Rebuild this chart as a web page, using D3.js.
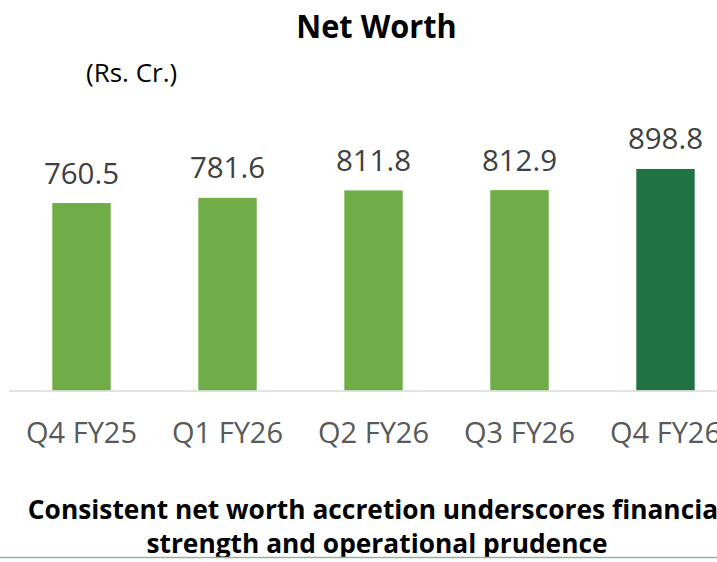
<!DOCTYPE html>
<html>
<head>
<meta charset="utf-8">
<script src="https://cdn.jsdelivr.net/npm/d3@7"></script>
<style>
  html, body { margin: 0; padding: 0; background: #fff; overflow: hidden; }
  svg { display: block; font-family: "Open Sans", "Noto Sans", sans-serif; }
</style>
</head>
<body>
<div id="chart"></div>
<script>
var width = 717
var height = 562

var quarters = ['Q4 FY25', 'Q1 FY26', 'Q2 FY26', 'Q3 FY26', 'Q4 FY26']
var netWorth = [760.5, 781.6, 811.8, 812.9, 898.8]
var barColors = ['#70ad47', '#70ad47', '#70ad47', '#70ad47', '#217346']
var captionLines = ['Consistent net worth accretion underscores financial', 'strength and operational prudence']

var data = quarters.map((q, i) => ({ q: q, v: netWorth[i], c: barColors[i] }))

var svg = d3.select('#chart').append('svg')
  .attr('width', width)
  .attr('height', height)

var x = d3.scaleBand().domain(quarters)
  .range([8.5, 738.5])
  .paddingInner(0.6)
  .paddingOuter(0.3)

var y = d3.scaleLinear().domain([0, 1000]).range([390.5, 144])

// title + unit
svg.append('text')
  .attr('x', 376.5).attr('y', 37.5)
  .attr('text-anchor', 'middle')
  .attr('font-size', 33).attr('font-weight', 700)
  .attr('fill', '#000')
  .attr('data-squeeze', 0.93)
  .text('Net Worth')

svg.append('text')
  .attr('x', 86).attr('y', 81.5)
  .attr('font-size', 26)
  .attr('fill', '#000')
  .text('(Rs. Cr.)')

// bars
svg.selectAll('rect.bar')
  .data(data)
  .enter()
  .append('rect')
  .attr('class', 'bar')
  .attr('x', d => x(d.q))
  .attr('y', d => y(d.v))
  .attr('width', x.bandwidth())
  .attr('height', d => y(0) - y(d.v))
  .attr('fill', d => d.c)

// value labels
svg.selectAll('text.val')
  .data(data)
  .enter()
  .append('text')
  .attr('class', 'val')
  .attr('x', d => x(d.q) + x.bandwidth() / 2)
  .attr('y', d => y(d.v) - 19.5)
  .attr('text-anchor', 'middle')
  .attr('font-size', 29.5)
  .attr('fill', '#404040')
  .text(d => d.v.toFixed(1))

// x axis
var xAxis = svg.append('g')
  .attr('transform', `translate(0, ${y(0)})`)
  .call(d3.axisBottom(x).tickSize(0).tickPadding(0))

xAxis.select('.domain')
  .attr('stroke', '#d9d9d9')
  .attr('stroke-width', 1.5)

xAxis.selectAll('text')
  .attr('dy', null)
  .attr('y', 52)
  .attr('font-family', '"Open Sans", "Noto Sans", sans-serif')
  .attr('font-size', 29)
  .attr('fill', '#595959')

// caption
svg.selectAll('text.cap')
  .data(captionLines)
  .enter()
  .append('text')
  .attr('class', 'cap')
  .attr('x', 377)
  .attr('y', (d, i) => 518.5 + i * 34.5)
  .attr('text-anchor', 'middle')
  .attr('font-size', 27).attr('font-weight', 700)
  .attr('fill', '#000')
  .attr('data-squeeze', 0.975)
  .text(d => d)

// squeeze bold text a little toward the narrower original face
svg.selectAll('text[data-squeeze]').each(function () {
  var t = d3.select(this)
  var w = this.getComputedTextLength()
  t.attr('textLength', w * +t.attr('data-squeeze')).attr('lengthAdjust', 'spacingAndGlyphs')
})

// bottom rule, covers descenders below it
svg.append('rect')
  .attr('x', 0).attr('y', 557)
  .attr('width', width).attr('height', height - 557)
  .attr('fill', '#fff')
svg.append('line')
  .attr('x1', 0).attr('x2', width)
  .attr('y1', 557.5).attr('y2', 557.5)
  .attr('stroke', '#8fb49a')
  .attr('stroke-width', 1.5)
</script>
</body>
</html>
